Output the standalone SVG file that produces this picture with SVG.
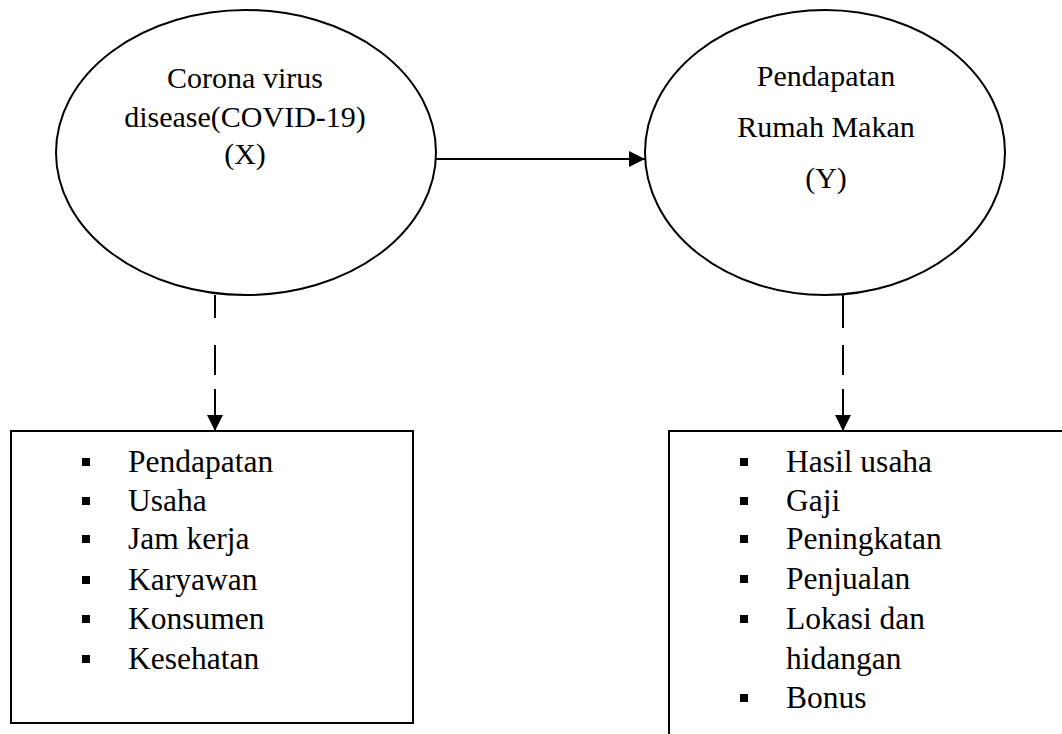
<svg xmlns="http://www.w3.org/2000/svg" width="1062" height="734" viewBox="0 0 1062 734">
<style>
.shape{fill:#fff;stroke:#000;stroke-width:2}
.box{fill:#fff;stroke:#000;stroke-width:2}
.t{font-family:"Liberation Serif","Times New Roman",serif;font-size:30px;fill:#000}
.l{font-size:31.5px}
.c{text-anchor:middle}
.line{stroke:#000;stroke-width:2;fill:none}
.bul{fill:#000}
</style>
<defs>
<marker id="ah" markerWidth="16" markerHeight="16" refX="16" refY="8" orient="auto" markerUnits="userSpaceOnUse">
<path d="M0,0 L16,8 L0,16 Z" fill="#000"/>
</marker>
</defs>
<rect width="1062" height="734" fill="#fff"/>
<g id="connectors">
<line class="line" x1="436" y1="159" x2="645" y2="159" marker-end="url(#ah)"/>
<line class="line" x1="215" y1="295" x2="215" y2="318"/>
<line class="line" x1="215" y1="345" x2="215" y2="375"/>
<line class="line" x1="215" y1="389" x2="215" y2="431" marker-end="url(#ah)"/>
<line class="line" x1="843" y1="295" x2="843" y2="328"/>
<line class="line" x1="843" y1="345" x2="843" y2="375"/>
<line class="line" x1="843" y1="389" x2="843" y2="431" marker-end="url(#ah)"/>
</g>
<g id="node-x">
<ellipse class="shape" cx="246" cy="152.5" rx="190" ry="142.5"/>
<text class="t c" x="245" y="88">Corona virus</text>
<text class="t c" x="245" y="127">disease(COVID-19)</text>
<text class="t c" x="245" y="164">(X)</text>
</g>
<g id="node-y">
<ellipse class="shape" cx="825" cy="152.5" rx="180" ry="142.5"/>
<text class="t c" x="826" y="86">Pendapatan</text>
<text class="t c" x="826" y="137">Rumah Makan</text>
<text class="t c" x="826" y="188">(Y)</text>
</g>
<g id="box-x">
<rect class="box" x="11" y="431" width="402" height="292"/>
<rect class="bul" x="82" y="458" width="8" height="8"/>
<rect class="bul" x="82" y="497" width="8" height="8"/>
<rect class="bul" x="82" y="535" width="8" height="8"/>
<rect class="bul" x="82" y="576" width="8" height="8"/>
<rect class="bul" x="82" y="615" width="8" height="8"/>
<rect class="bul" x="82" y="655" width="8" height="8"/>
<text class="t l" x="128" y="472">Pendapatan</text>
<text class="t l" x="128" y="511">Usaha</text>
<text class="t l" x="128" y="549">Jam kerja</text>
<text class="t l" x="128" y="590">Karyawan</text>
<text class="t l" x="128" y="629">Konsumen</text>
<text class="t l" x="128" y="669">Kesehatan</text>
</g>
<g id="box-y">
<rect class="box" x="669" y="431" width="420" height="320"/>
<rect class="bul" x="740" y="458" width="8" height="8"/>
<rect class="bul" x="740" y="497" width="8" height="8"/>
<rect class="bul" x="740" y="535" width="8" height="8"/>
<rect class="bul" x="740" y="575" width="8" height="8"/>
<rect class="bul" x="740" y="615" width="8" height="8"/>
<rect class="bul" x="740" y="694" width="8" height="8"/>
<text class="t l" x="786" y="472">Hasil usaha</text>
<text class="t l" x="786" y="511">Gaji</text>
<text class="t l" x="786" y="549">Peningkatan</text>
<text class="t l" x="786" y="589">Penjualan</text>
<text class="t l" x="786" y="629">Lokasi dan</text>
<text class="t l" x="786" y="669">hidangan</text>
<text class="t l" x="786" y="708">Bonus</text>
</g>
</svg>
